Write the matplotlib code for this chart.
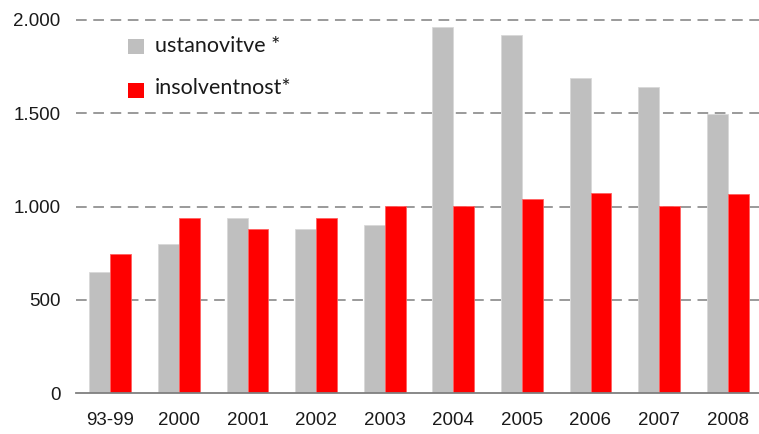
import matplotlib
matplotlib.use("Agg")
import matplotlib.pyplot as plt
from matplotlib.patches import Rectangle
import numpy as np

categories = ["93-99", "2000", "2001", "2002", "2003", "2004", "2005", "2006", "2007", "2008"]
ustanovitve = [650, 800, 940, 880, 900, 1960, 1920, 1690, 1640, 1495]
insolventnost = [745, 940, 880, 940, 1005, 1005, 1040, 1075, 1005, 1065]
ytick_vals = [0, 500, 1000, 1500, 2000]
ytick_labels = ["0", "500", "1.000", "1.500", "2.000"]
legend_labels = ["ustanovitve *", "insolventnost*"]

GREY = "#BFBFBF"
RED = "#FF0000"

W, H = 759, 434
fig = plt.figure(figsize=(W / 100, H / 100), dpi=100)
ax = fig.add_axes([76 / W, (H - 393) / H, 1 - 76 / W + 3 / W, (393 - 20) / H])

x = np.arange(len(categories))
bw = 0.305
ax.bar(x - bw / 2, ustanovitve, bw, color=GREY, edgecolor="#D9D9D9", linewidth=0.6, zorder=3)
ax.bar(x + bw / 2, insolventnost, bw, color=RED, edgecolor="#FF6060", linewidth=0.6, zorder=3)

ax.set_xlim(-0.5, len(categories) - 0.5)
ax.set_ylim(0, 2000)

for v in ytick_vals[1:]:
    ax.axhline(v, color="#7F7F7F", linewidth=1.1, dashes=(7, 4.3), zorder=1, clip_on=False)
ax.axhline(0, color="#7F7F7F", linewidth=1.3, zorder=4, clip_on=False)

for s in ax.spines.values():
    s.set_visible(False)

ax.set_yticks(ytick_vals)
ax.set_yticklabels(ytick_labels)
ax.set_xticks(x)
ax.set_xticklabels(categories)
ax.tick_params(axis="y", length=0, pad=11, labelsize=13.5, labelcolor="#1a1a1a")
ax.tick_params(axis="x", length=0, pad=14, labelsize=13.5, labelcolor="#1a1a1a")
for lab in ax.get_xticklabels() + ax.get_yticklabels():
    lab.set_fontfamily("Liberation Sans")

# legend
leg_items = [(GREY, 39, 46), (RED, 83, 88)]
for (col, ytop, ytxt), text in zip(leg_items, legend_labels):
    fig.patches.append(Rectangle((128 / W, 1 - (ytop + 15) / H), 16 / W, 15 / H,
                                 transform=fig.transFigure, facecolor=col, edgecolor="none"))
    fig.text(155 / W, 1 - ytxt / H, text, fontsize=15.5, fontfamily="Lato",
             va="center", ha="left", color="#1a1a1a")

fig.savefig("out.png", dpi=100)
